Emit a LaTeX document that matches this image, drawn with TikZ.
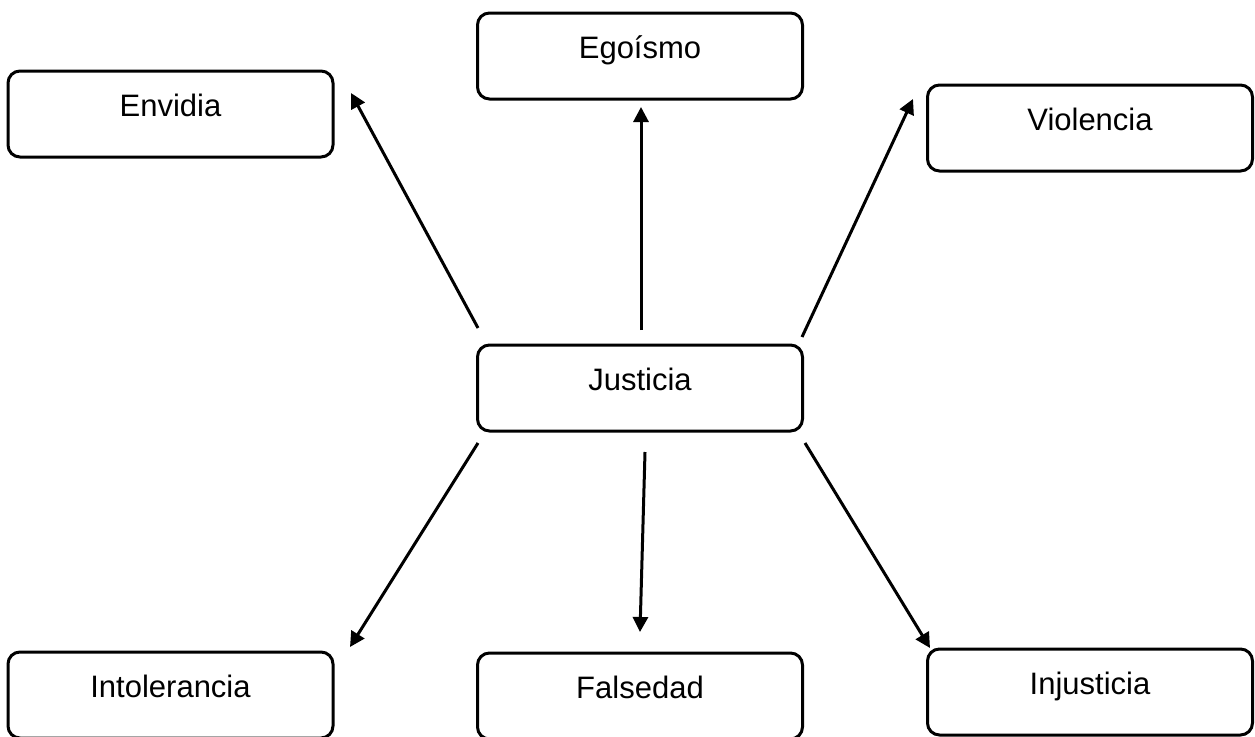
\documentclass[tikz,border=0pt]{standalone}
\usepackage{fontspec}
\setmainfont{Liberation Sans}
\usetikzlibrary{arrows.meta}
\begin{document}
\begin{tikzpicture}[x=1pt,y=-1pt,
  box/.style={draw,line width=3pt,rounded corners=12pt,minimum width=325pt,minimum height=86pt,
    inner sep=0pt,text height=45pt,text depth=41pt,font=\fontsize{31}{31}\selectfont},
  conn/.style={line width=3pt,-{Triangle[length=15pt,width=15pt]}}]
\useasboundingbox (0,0) rectangle (1255,736);
\node[box] (ego) at (640,56) {Ego\'ismo};
\node[box] (env) at (170.5,114) {Envidia};
\node[box] (vio) at (1090,128) {Violencia};
\node[box] (jus) at (640,388) {Justicia};
\node[box] (int) at (170.5,695) {Intolerancia};
\node[box] (fal) at (640,696) {Falsedad};
\node[box] (inj) at (1090,692) {Injusticia};
\coordinate (a1s) at (478,328); \coordinate (a1e) at (351,93);
\coordinate (a2s) at (641,330); \coordinate (a2e) at (641,107);
\coordinate (a3s) at (802,337); \coordinate (a3e) at (913,99);
\coordinate (a4s) at (478,443); \coordinate (a4e) at (350,647);
\coordinate (a5s) at (645,452); \coordinate (a5e) at (640,632);
\coordinate (a6s) at (805,443); \coordinate (a6e) at (930,648);
\draw[conn] (a1s) -- (a1e);
\draw[conn] (a2s) -- (a2e);
\draw[conn] (a3s) -- (a3e);
\draw[conn] (a4s) -- (a4e);
\draw[conn] (a5s) -- (a5e);
\draw[conn] (a6s) -- (a6e);
\end{tikzpicture}
\end{document}
